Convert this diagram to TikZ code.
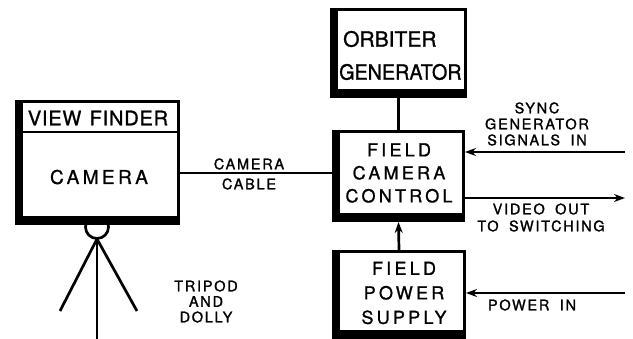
\documentclass[tikz,border=0pt]{standalone}
\usepackage{fontspec}
\usepackage{graphicx}
\usetikzlibrary{calc,arrows.meta}
\newfontfamily\lettplain{TeX Gyre Heros}[FakeBold=1.1]
\newfontfamily\lettview{TeX Gyre Heros}[LetterSpace=4,WordSpace=1.3,FakeBold=1.1]
\newfontfamily\lettwide{TeX Gyre Heros}[LetterSpace=18,WordSpace=1.5,FakeBold=1.1]
\newfontfamily\lettsmall{TeX Gyre Heros}[LetterSpace=12,WordSpace=1.8,FakeBold=1.4]
\begin{document}
\begin{tikzpicture}[x=1pt,y=-1pt,
  box/.style={draw, fill=white, line width=3pt, inner sep=0pt,
    path picture={
      \fill[black] (path picture bounding box.south west) rectangle ([xshift=6.5pt]path picture bounding box.north west);
      \fill[black] (path picture bounding box.south west) rectangle ([yshift=7.5pt]path picture bounding box.south east);
    }},
  wire/.style={line width=2.7pt},
  arr/.style={wire,-{Stealth[length=11pt,width=8pt]}},
  bigtext/.style={font=\lettwide\fontsize{18}{23}\selectfont, align=center, inner sep=0pt},
  smalltext/.style={font=\lettsmall\fontsize{14.5}{16}\selectfont, align=center, inner sep=0pt}
]
\useasboundingbox (0,0) rectangle (633,339);
\fill[white] (0,0) rectangle (633,339);

% tripod
\coordinate (tc) at (97,227);
\coordinate (apex) at (97,239);
\coordinate (legL) at (60,311);
\coordinate (legR) at (137,311);
\coordinate (legC) at (97,340);
\draw[wire] (tc) circle[radius=11.5];
\draw[wire] (apex) -- (legL);
\draw[wire] (apex) -- (legR);
\draw[wire] (apex) -- (legC);

% boxes
\node[box, minimum width=162pt, minimum height=122pt] (cam) at (97.5,162.5) {};
\draw[line width=2pt] ($(cam.north west)+(0,32.5)$) -- ($(cam.north east)+(0,32.5)$);
\node[font=\lettview\fontsize{20}{24}\selectfont, inner sep=0pt] (vft) at (98,118) {VIEW FINDER};
\node[font=\lettwide\fontsize{19}{23}\selectfont, inner sep=0pt] (camt) at (99,177) {CAMERA};

\node[box, minimum width=134pt, minimum height=87pt] (orb) at (398.5,53) {};
\node[font=\lettplain\fontsize{21}{33}\selectfont, align=left, anchor=west, inner sep=0pt] (orbt) at (339,55.5) {\hspace*{4pt}ORBITER\\\scalebox{0.94}[1]{GENERATOR}};

\node[box, minimum width=130pt, minimum height=89pt] (fcc) at (398.5,176) {};
\node[bigtext] (fcct) at (399,173) {FIELD\\CAMERA\\CONTROL};

\node[box, minimum width=131pt, minimum height=86pt] (ps) at (399,294.5) {};
\node[bigtext, font=\lettwide\fontsize{18}{24.5}\selectfont] (pst) at (404,293) {FIELD\\POWER\\SUPPLY};

% connectors
\coordinate (cableL) at ([yshift=-10.5pt]cam.east);
\draw[wire] (cableL) -- (cableL -| fcc.west);
\draw[wire] (orb.south) -- (fcc.north);
\draw[arr] (ps.north) -- (fcc.south);

\coordinate (syncR) at (625,152);
\draw[arr] (syncR) -- (syncR -| fcc.east);
\coordinate (vidR) at (625,198);
\draw[arr] (fcc.east |- vidR) -- (vidR);
\coordinate (pwrR) at (625,293);
\draw[arr] (pwrR) -- (pwrR -| ps.east);

% labels
\node[smalltext, font=\lettsmall\fontsize{14.5}{20}\selectfont] (cablet) at (249,174) {CAMERA\\CABLE};
\node[smalltext] (synct) at (537,124) {SYNC\\GENERATOR\\SIGNALS IN};
\node[smalltext, font=\lettsmall\fontsize{14.5}{17}\selectfont] (vidt) at (541,217.5) {VIDEO OUT\\TO SWITCHING};
\node[smalltext] (pwrt) at (532,305) {POWER IN};
\node[smalltext, font=\lettsmall\fontsize{14.5}{15.5}\selectfont] (tript) at (206,301.5) {TRIPOD\\AND\\DOLLY};
\end{tikzpicture}
\end{document}
